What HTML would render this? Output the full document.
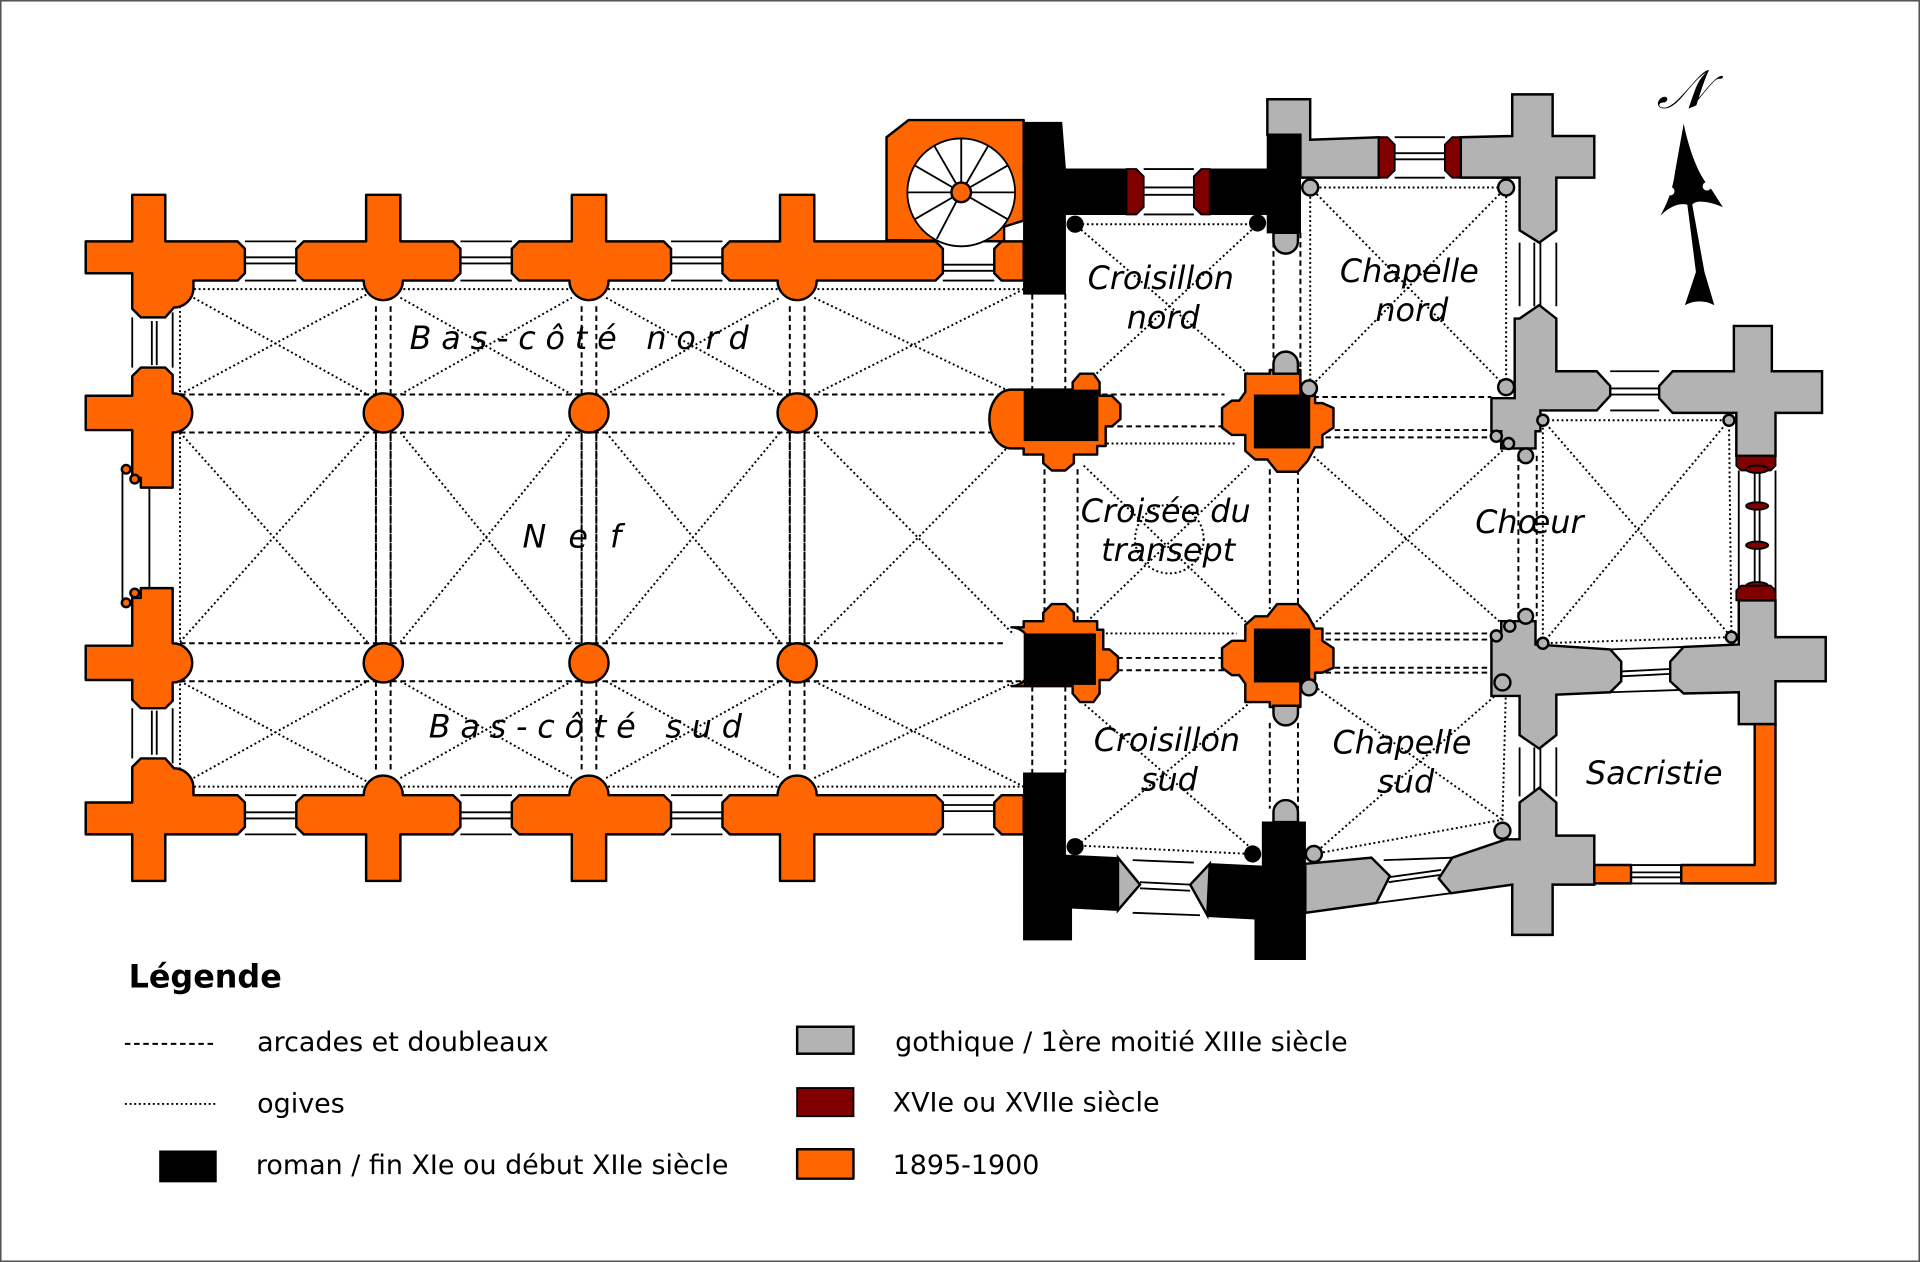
<!DOCTYPE html>
<html><head><meta charset="utf-8"><style>html,body{margin:0;padding:0;background:#fff}svg{display:block}</style></head>
<body>
<svg xmlns="http://www.w3.org/2000/svg" xmlns:xlink="http://www.w3.org/1999/xlink" width="1920" height="1262" viewBox="0 0 1568 1030" preserveAspectRatio="none" font-family="'DejaVu Sans','Liberation Sans',sans-serif">
<defs>
<style>
.o{fill:#ff6600;stroke:#000;stroke-width:2;stroke-linejoin:round}
.g{fill:#b3b3b3;stroke:#000;stroke-width:2}
.r{fill:#800000;stroke:#000;stroke-width:1.5}
.k{fill:#000;stroke:#000;stroke-width:1}
.da{stroke:#000;stroke-width:1.6;stroke-dasharray:4.5,3;fill:none}
.do{stroke:#000;stroke-width:1.6;stroke-dasharray:1.6,2.2;fill:none}
.w{stroke:#000;stroke-width:1.5;fill:none}
.lab{font-style:italic;font-size:26px;text-anchor:middle}
</style>
<g id="north">
 <path class="w" d="M200,197H242M200,229H242M200,210H242M200,215H242M376,197H418M376,229H418M376,210H418M376,215H418M548,197H590M548,229H590M548,210H590M548,215H590M770,197H812M770,229H812M770,216H812M770,221H812"/>
 <path class="do" d="M147,236H836M147,250V322M158,243L300,322M147,322L300,240M327,243L467,322M327,322L467,243M495,243L637,322M495,322L637,243M665,243L830,322M665,322L836,236"/>
 <path class="da" d="M147,322H836M147,353H820M307,250V322M319,250V322M475,250V322M487,250V322M645,250V322M657,250V322M307,353V524M319,353V524"/>
 <path class="o" d="M108,159H135V197H194L200,203V223L194,229H158V235A16,16 0 0 1 142,251L135,259H115L108,252V223H70V197H108Z"/>
 <path class="o" d="M299,159H327V197H370L376,203V223L370,229H329A16,16 0 0 1 297,229H248L242,223V203L248,197H299Z"/>
 <path class="o" d="M467,159H495V197H542L548,203V223L542,229H497A16,16 0 0 1 465,229H424L418,223V203L424,197H467Z"/>
 <path class="o" d="M637,159H665V197H764L770,203V223L764,229H667A16,16 0 0 1 635,229H596L590,223V203L596,197H637Z"/>
 <path class="o" d="M818,197H836V229H818L812,223V203Z"/>
 <path class="w" d="M108,259V300M141,255V300M124,262V298M128,262V298"/>
 <path class="o" d="M115,300H135L141,306V321A16,16 0 0 1 141,353V398H115V390H108V351H70V323H108V307Z"/>
 <circle class="o" cx="313" cy="337" r="16"/>
 <circle class="o" cx="481" cy="337" r="16"/>
 <circle class="o" cx="651" cy="337" r="16"/>
 <path class="da" d="M475,353V524M487,353V524M645,353V524M657,353V524"/>
</g>
</defs>
<rect x="0.5" y="0.5" width="1567" height="1029" fill="#fff" stroke="#555" stroke-width="1.5"/>

<use xlink:href="#north"/>
<use xlink:href="#north" transform="translate(0,878) scale(1,-1)"/>
<path class="do" d="M147,353V524M147,353L300,524M147,524L300,353M327,353L467,524M327,524L467,353M495,353L637,524M495,524L637,353M665,353L828,518M665,524L828,360"/>
<path class="w" d="M100,383V492M122,398V480"/>
<circle class="o" cx="103" cy="383" r="3.5"/><circle class="o" cx="110" cy="391" r="3.5"/>
<circle class="o" cx="110" cy="484" r="3.5"/><circle class="o" cx="103" cy="492" r="3.5"/>

<path class="o" d="M724,196V112L742,98H836V180L820,185V197Z"/>
<circle cx="785" cy="157" r="44" fill="#fff" stroke="#000" stroke-width="1.5"/>
<path class="w" d="M785,157L785,113M785,157L807,119M785,157L823,135M785,157L829,157M785,157L823,179M785,157L765,195M785,157L747,179M785,157L741,157M785,157L747,135M785,157L763,119"/>
<circle class="o" cx="785" cy="157" r="8"/>

<path class="da" d="M843,240V318M870,240V318M853,383V517M880,383V517M1040,190V300M1062,190V300M1037,383V497M1060,383V497M843,560V631M870,560V631M1037,590V660M1060,590V660M900,322H1000M905,348H1020M1065,324H1218M1075,351H1218M1075,357H1218M1075,517H1218M1075,522H1218M1075,545H1218M1075,549H1218M905,537H1020M905,547H1020M1240,372V503M1255,372V503"/>
<path class="do" d="M880,183H1025M880,185L1025,310M1025,185L890,310M885,362H1010M885,380L1020,510M885,510L1020,380M888,517H1010M1070,153H1230V316M1070,153V310M1070,153L1230,316M1230,153L1070,316M1260,343H1412L1414,520L1260,525ZM1260,343L1414,520M1412,343L1260,525M1070,370L1230,512M1230,365L1070,512M880,690L1025,570M880,570L1025,695M878,690L1022,697M1073,697L1227,669L1230,557M1073,560L1227,669M1073,697L1230,560"/>
<circle cx="955" cy="440" r="28" class="do"/>

<path class="k" d="M836,100H867L870,138H920V175H870V240H836Z"/>
<path class="r" d="M920,138H928L934,144V169L928,175H920Z"/>
<path class="w" d="M934,138H975M934,175H975M934,153H975M934,159H975"/>
<path class="r" d="M988,138H981L975,144V169L981,175H988Z"/>
<path class="k" d="M988,138H1035V110H1062V190H1035V175H988Z"/>
<path class="g" d="M1040,190V197A10,10 0 0 0 1060,197V190Z"/>
<circle cx="878" cy="183" r="7" fill="#000"/><circle cx="1027" cy="182" r="7" fill="#000"/>
<path class="g" d="M1035,81H1070V114L1126,112V145H1062V110H1035Z"/>
<path class="r" d="M1126,112H1133L1139,118V139L1133,145H1126Z"/>
<path class="w" d="M1139,112H1180M1139,145H1180M1139,125H1180M1139,130H1180"/>
<path class="r" d="M1193,112H1186L1180,118V139L1186,145H1193Z"/>
<path class="g" d="M1193,112L1235,111V77H1268V111H1302V145H1271V188L1257,198L1241,188V145H1193Z"/>
<path class="w" d="M1241,198V250M1271,198V250M1253,198V250M1258,198V250"/>
<path class="g" d="M1241,260L1257,249L1271,260V303H1304L1315,315V323L1304,335H1258V352H1254V366H1226V352H1218V325H1237V260Z"/>
<path class="w" d="M1315,303H1355M1315,335H1355M1315,317H1355M1315,322H1355"/>
<path class="g" d="M1366,303H1416V266H1447V303H1488V337H1450V372H1418V337H1366L1355,325V315Z"/>
<path class="r" d="M1418,372H1450V380L1446,384H1422L1418,380Z"/>
<path class="w" d="M1420,384V488M1450,384V488M1433,384V488M1437,384V488"/>
<ellipse class="r" cx="1435" cy="383" rx="9" ry="3"/><ellipse class="r" cx="1435" cy="413" rx="9" ry="3"/>
<ellipse class="r" cx="1435" cy="445" rx="9" ry="3"/><ellipse class="r" cx="1435" cy="478" rx="9" ry="3"/>
<path class="r" d="M1418,490H1450V482L1446,478H1422L1418,482Z"/>
<path class="g" d="M1218,518H1226V507H1254V526L1315,530L1324,540V556L1315,565L1271,567V600L1257,611L1241,600V568H1218Z"/>
<path class="w" d="M1324,548L1364,546M1324,552L1364,550M1315,530L1375,528M1315,565L1375,563"/>
<path class="g" d="M1375,528L1420,526V490H1450V520H1491V556H1450V591H1420V565L1375,566L1364,556V540Z"/>
<path class="o" d="M1433,591H1450V721H1373V706H1433Z"/>
<path class="o" d="M1302,706H1332V721H1302Z"/>
<path class="w" d="M1332,706H1373M1332,721H1373M1332,712H1373M1332,716H1373"/>
<path class="w" d="M1241,610V650M1271,610V650M1253,610V650M1258,610V650"/>
<path class="g" d="M1241,655L1257,643L1271,655V682H1302V722H1268V763H1235V722L1185,729L1175,717L1186,700L1230,685H1241Z"/>
<path class="w" d="M1130,702L1186,700M1124,737L1185,729M1134,716L1177,710M1134,720L1177,714"/>
<path class="g" d="M1066,705L1120,700L1135,715L1124,737L1066,745Z"/>
<path class="k" d="M836,631H870V698L913,700V743L875,741V767H836Z"/>
<path class="g" d="M913,700L931,722L913,743Z"/>
<path class="w" d="M925,702L975,704M925,745L980,747M931,720L972,722M931,725L972,727"/>
<path class="g" d="M988,705L972,722L986,747Z"/>
<path class="k" d="M988,705L1031,707V671H1066V783H1025V750L986,748Z"/>
<path class="g" d="M1040,671V663A10,10 0 0 1 1060,663V671Z"/>
<circle cx="878" cy="691" r="7" fill="#000"/><circle cx="1023" cy="697" r="7" fill="#000"/>

<path class="o" d="M826,318H876V312L882,305H893L898,312V323H908L915,330V342L908,348H903V364H896V371H877V378L870,384H859L852,378V371H836V366H826A18,24 0 0 1 826,318Z"/>
<rect x="836" y="318" width="61" height="42" fill="#000"/>
<path class="o" d="M826,560H876V566L882,573H893L898,566V555H906L913,548V536L906,530H901V514H896V507H877V500L870,493H859L852,500V507H836V512H826A18,24 0 0 1 826,560Z"/>
<rect x="836" y="517" width="59" height="42" fill="#000"/>
<path class="o" d="M1017,305H1037V302H1062V323H1074V329H1080L1089,333V349L1080,355V365H1074L1068,376L1060,385H1043L1035,375H1025L1017,368V355H1006L998,349V333L1006,327H1012L1017,320Z"/>
<rect x="1024" y="322" width="46" height="44" fill="#000"/>
<path class="o" d="M1017,573H1037V577H1062V555H1074V549H1080L1089,545V529L1080,523V513H1074L1068,502L1060,493H1043L1035,503H1025L1017,510V523H1006L998,529V545L1006,551H1012L1017,558Z"/>
<rect x="1024" y="513" width="46" height="44" fill="#000"/>
<path class="g" d="M1040,305V297A10,10 0 0 1 1060,297V305Z"/>
<path class="g" d="M1040,576V582A10,10 0 0 0 1060,582V576Z"/>

<g class="g" stroke-width="1.5">
<circle cx="1070" cy="153" r="6.5"/><circle cx="1230" cy="153" r="6.5"/><circle cx="1230" cy="316" r="6.5"/>
<circle cx="1069" cy="317" r="6.5"/><circle cx="1222" cy="356" r="4.5"/><circle cx="1232" cy="362" r="4.5"/>
<circle cx="1246" cy="372" r="6"/><circle cx="1260" cy="343" r="4.5"/><circle cx="1412" cy="343" r="4.5"/>
<circle cx="1246" cy="503" r="6"/><circle cx="1233" cy="511" r="4.5"/><circle cx="1222" cy="519" r="4.5"/>
<circle cx="1260" cy="525" r="4.5"/><circle cx="1414" cy="520" r="4.5"/><circle cx="1227" cy="557" r="6.5"/>
<circle cx="1069" cy="561" r="6.5"/><circle cx="1227" cy="678" r="6.5"/><circle cx="1073" cy="697" r="6.5"/>
</g>

<text class="lab" x="477" y="285" letter-spacing="8">Bas-côté nord</text>
<text class="lab" x="476" y="447" letter-spacing="18">Nef</text>
<text class="lab" x="482" y="602" letter-spacing="8">Bas-côté sud</text>
<text class="lab" x="948" y="236">Croisillon</text><text class="lab" x="950" y="268">nord</text>
<text class="lab" x="1151" y="230">Chapelle</text><text class="lab" x="1153" y="262">nord</text>
<text class="lab" x="952" y="426">Croisée du</text><text class="lab" x="954" y="458">transept</text>
<text class="lab" x="1249" y="435">Chœur</text>
<text class="lab" x="953" y="613">Croisillon</text><text class="lab" x="955" y="645">sud</text>
<text class="lab" x="1145" y="615">Chapelle</text><text class="lab" x="1148" y="647">sud</text>
<text class="lab" x="1351" y="640">Sacristie</text>

<text x="1374" y="88" font-family="'DejaVu Serif','Liberation Serif',serif" font-style="italic" font-size="44" text-anchor="middle">𝒩</text>
<path d="M1375,101C1380,125 1388,145 1398,155L1407,169C1395,164 1385,163 1382,167L1392,222L1400,249C1392,245 1384,245 1376,249L1385,222L1378,167C1370,165 1362,170 1356,176C1362,165 1366,155 1368,140Z" fill="#000"/>
<circle cx="1364" cy="156" r="3.5" fill="#fff"/><circle cx="1394" cy="152" r="3.5" fill="#fff"/>

<text x="105" y="806" font-size="26" font-weight="bold">Légende</text>
<path class="da" d="M102,852H175"/>
<path class="do" d="M102,901H176"/>
<rect x="130" y="939" width="47" height="26" fill="#000"/>
<g font-size="22">
<text x="210" y="858">arcades et doubleaux</text>
<text x="210" y="908">ogives</text>
<text x="209" y="958">roman / fin XIe ou début XIIe siècle</text>
<text x="731" y="858">gothique / 1ère moitié XIIIe siècle</text>
<text x="729" y="907">XVIe ou XVIIe siècle</text>
<text x="729" y="958">1895-1900</text>
</g>
<rect x="651" y="838" width="46" height="22" class="g" stroke-width="1.5"/>
<rect x="651" y="888" width="46" height="23" class="r"/>
<rect x="651" y="938" width="46" height="24" class="o" stroke-width="1.5"/>
</svg>
</body></html>
